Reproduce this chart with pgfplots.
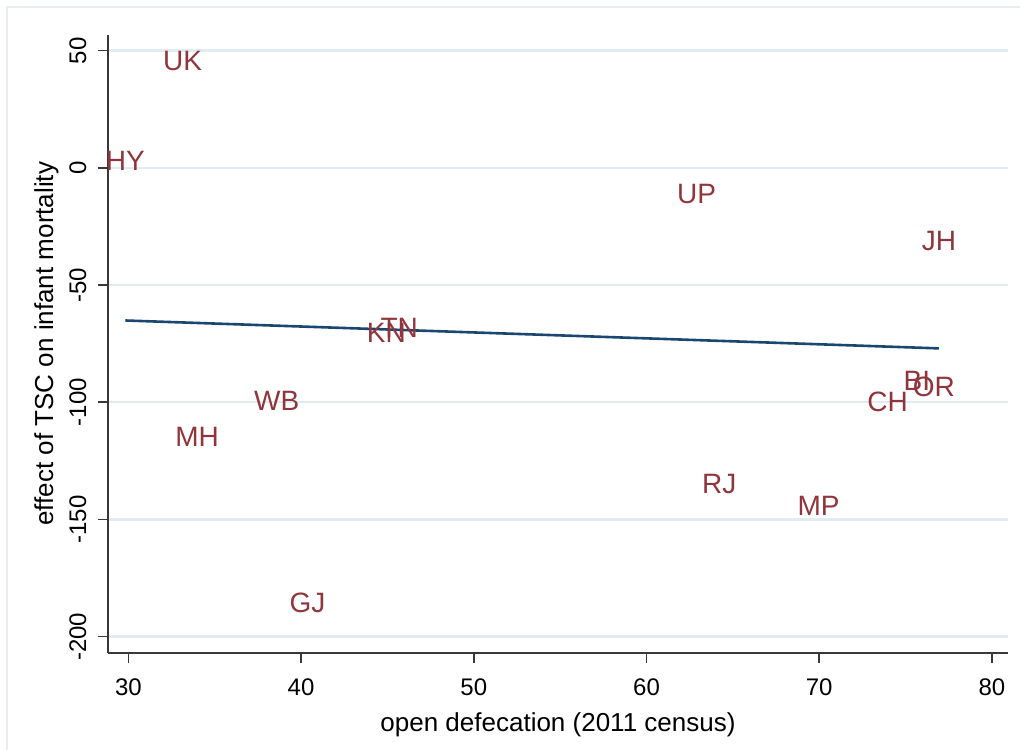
\documentclass[border=0pt]{standalone}
\usepackage{pgfplots}
\pgfplotsset{compat=1.18}
\usepackage{fontspec}
\setmainfont{Liberation Sans}

\definecolor{statamaroon}{RGB}{144,53,59}
\definecolor{statanavy}{RGB}{26,71,111}
\definecolor{gridblue}{RGB}{226,235,239}
\definecolor{framegray}{RGB}{232,237,239}

\begin{document}
\begin{tikzpicture}
\useasboundingbox (-54pt,-48.15pt) rectangle (456pt,326.35pt);
\draw[framegray, line width=0.7pt] (-50.5pt,-70pt) rectangle (480pt,322.85pt);
\begin{axis}[
  at={(0,0)}, anchor=south west,
  scale only axis,
  width=450pt, height=309pt,
  xmin=28.82, xmax=80.93,
  ymin=-206.83, ymax=56.83,
  axis x line*=bottom, axis y line*=left,
  axis line style={black!78, line width=0.9pt},
  xtick={30,40,...,80},
  ytick={-200,-150,...,50},
  tick align=outside,
  major tick length=5pt,
  tick style={black!78, line width=0.8pt},
  ymajorgrids,
  grid style={gridblue, line width=1.2pt},
  /pgf/number format/assume math mode=true,
  ticklabel style={font=\fontsize{12}{14}\selectfont},
  xticklabel style={anchor=north, inner sep=0pt},
  yticklabel style={rotate=90, anchor=base, inner sep=0pt},
  xticklabel shift=8pt,
  yticklabel shift=6pt,
  xlabel={open defecation (2011 census)},
  ylabel={effect of TSC on infant mortality},
  xlabel style={font=\fontsize{13}{15}\selectfont, at={(axis description cs:0.5,-0.1278)}, anchor=base, inner sep=0pt},
  ylabel style={font=\fontsize{13}{15}\selectfont, at={(axis description cs:-0.0610,0.5)}, anchor=base, rotate=0, inner sep=0pt},
  clip=false,
]
% state labels drawn at their data points
\addplot[only marks, mark=*, mark size=0pt, mark options={draw=none, fill=none},
  nodes near coords, point meta=explicit symbolic,
  every node near coord/.append style={anchor=center, inner sep=0pt,
    text=statamaroon, font=\fontsize{14}{16}\selectfont}]
  table[x=x, y=y, meta=label] {
label x y
UK 33.14 45.8
HY 29.83 3.1
UP 62.90 -11.1
JH 76.93 -31.2
TN 45.68 -68.3
KN 44.94 -70.4
WB 38.59 -99.3
MH 33.98 -114.9
GJ 40.37 -185.7
RJ 64.21 -134.8
MP 69.96 -144.1
CH 73.96 -99.7
BI 75.65 -90.7
OR 76.64 -93.6
};
% linear fit
\addplot[statanavy, line width=1.3pt] coordinates {(29.83,-65.1) (76.93,-77.0)};
\end{axis}
\end{tikzpicture}
\end{document}
